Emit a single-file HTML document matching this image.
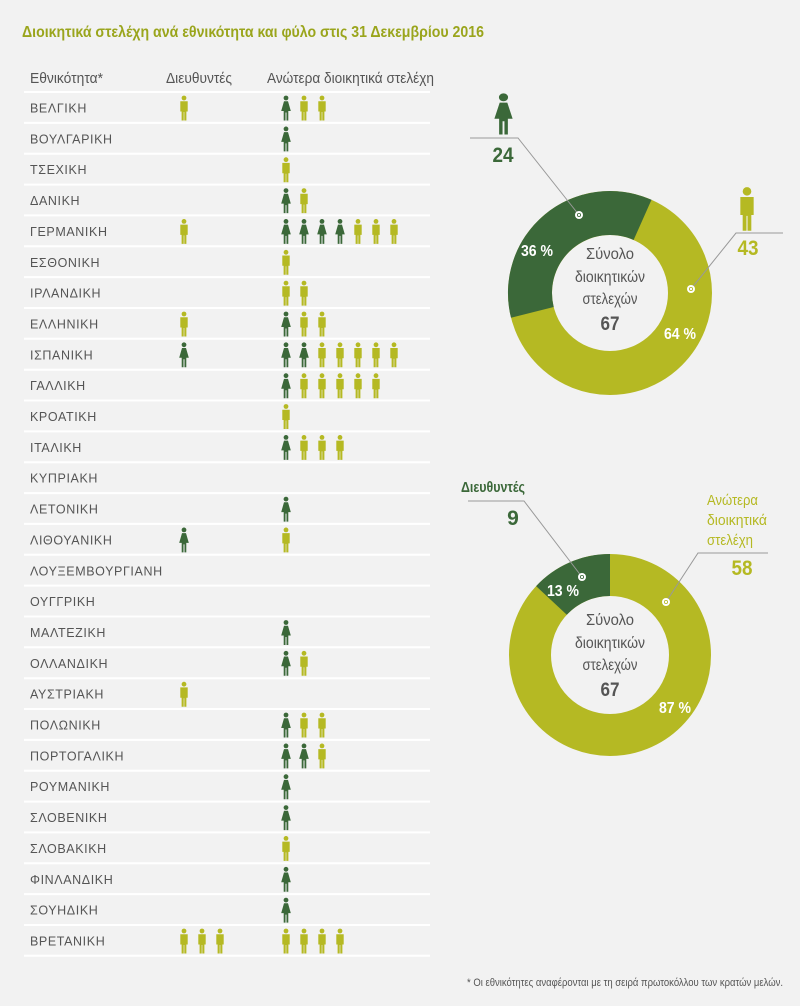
<!DOCTYPE html>
<html><head><meta charset="utf-8"><style>
html,body{margin:0;padding:0;background:#f2f2f2}
svg{display:block}
.t{font-family:"Liberation Sans Narrow","Liberation Sans",sans-serif}
.lab{font-family:"Liberation Sans",sans-serif;font-size:12.5px;fill:#555;letter-spacing:0.6px}
</style></head><body>
<svg width="800" height="1006" viewBox="0 0 800 1006" xmlns="http://www.w3.org/2000/svg">
<defs>
<g id="m"><circle cx="5" cy="-9.5" r="2.4" fill="#b5b923"/><path d="M1.3,-6.3 H8.7 V4 H7.4 V13 H5.3 V4.5 H4.7 V13 H2.6 V4 H1.3 Z" fill="#b5b923"/></g>
<g id="f"><circle cx="5" cy="-9.5" r="2.4" fill="#3b6839"/><path d="M3,-6.3 H7 L9.8,3.5 H7.3 V13 H5.5 V5 H4.5 V13 H2.7 V3.5 H0.2 Z" fill="#3b6839"/></g>
</defs>
<rect width="800" height="1006" fill="#f2f2f2"/>
<text class="t" x="22" y="37" font-size="16" font-weight="bold" fill="#9aa51c" textLength="462" lengthAdjust="spacingAndGlyphs">Διοικητικά στελέχη ανά εθνικότητα και φύλο στις 31 Δεκεμβρίου 2016</text>
<text class="t" x="30" y="83" font-size="15" fill="#555" textLength="73" lengthAdjust="spacingAndGlyphs">Εθνικότητα*</text>
<text class="t" x="166" y="83" font-size="15" fill="#555" textLength="66" lengthAdjust="spacingAndGlyphs">Διευθυντές</text>
<text class="t" x="267" y="83" font-size="15" fill="#555" textLength="167" lengthAdjust="spacingAndGlyphs">Ανώτερα διοικητικά στελέχη</text>
<g stroke="#fff" stroke-width="2">
<line x1="24" x2="430" y1="92" y2="92"/><line x1="24" x2="430" y1="122.9" y2="122.9"/><line x1="24" x2="430" y1="153.7" y2="153.7"/><line x1="24" x2="430" y1="184.6" y2="184.6"/><line x1="24" x2="430" y1="215.4" y2="215.4"/><line x1="24" x2="430" y1="246.3" y2="246.3"/><line x1="24" x2="430" y1="277.1" y2="277.1"/><line x1="24" x2="430" y1="308" y2="308"/><line x1="24" x2="430" y1="338.8" y2="338.8"/><line x1="24" x2="430" y1="369.7" y2="369.7"/><line x1="24" x2="430" y1="400.5" y2="400.5"/><line x1="24" x2="430" y1="431.4" y2="431.4"/><line x1="24" x2="430" y1="462.2" y2="462.2"/><line x1="24" x2="430" y1="493.1" y2="493.1"/><line x1="24" x2="430" y1="523.9" y2="523.9"/><line x1="24" x2="430" y1="554.8" y2="554.8"/><line x1="24" x2="430" y1="585.6" y2="585.6"/><line x1="24" x2="430" y1="616.5" y2="616.5"/><line x1="24" x2="430" y1="647.3" y2="647.3"/><line x1="24" x2="430" y1="678.2" y2="678.2"/><line x1="24" x2="430" y1="709" y2="709"/><line x1="24" x2="430" y1="739.9" y2="739.9"/><line x1="24" x2="430" y1="770.7" y2="770.7"/><line x1="24" x2="430" y1="801.6" y2="801.6"/><line x1="24" x2="430" y1="832.4" y2="832.4"/><line x1="24" x2="430" y1="863.3" y2="863.3"/><line x1="24" x2="430" y1="894.1" y2="894.1"/><line x1="24" x2="430" y1="925" y2="925"/><line x1="24" x2="430" y1="955.8" y2="955.8"/>
</g>
<g transform="translate(0,107.5)"><text class="lab" x="30" y="5">ΒΕΛΓΙΚΗ</text><use href="#m" x="179"/><use href="#f" x="281"/><use href="#m" x="299"/><use href="#m" x="317"/></g>
<g transform="translate(0,138.4)"><text class="lab" x="30" y="5">ΒΟΥΛΓΑΡΙΚΗ</text><use href="#f" x="281"/></g>
<g transform="translate(0,169.2)"><text class="lab" x="30" y="5">ΤΣΕΧΙΚΗ</text><use href="#m" x="281"/></g>
<g transform="translate(0,200.1)"><text class="lab" x="30" y="5">ΔΑΝΙΚΗ</text><use href="#f" x="281"/><use href="#m" x="299"/></g>
<g transform="translate(0,230.9)"><text class="lab" x="30" y="5">ΓΕΡΜΑΝΙΚΗ</text><use href="#m" x="179"/><use href="#f" x="281"/><use href="#f" x="299"/><use href="#f" x="317"/><use href="#f" x="335"/><use href="#m" x="353"/><use href="#m" x="371"/><use href="#m" x="389"/></g>
<g transform="translate(0,261.8)"><text class="lab" x="30" y="5">ΕΣΘΟΝΙΚΗ</text><use href="#m" x="281"/></g>
<g transform="translate(0,292.6)"><text class="lab" x="30" y="5">ΙΡΛΑΝΔΙΚΗ</text><use href="#m" x="281"/><use href="#m" x="299"/></g>
<g transform="translate(0,323.5)"><text class="lab" x="30" y="5">ΕΛΛΗΝΙΚΗ</text><use href="#m" x="179"/><use href="#f" x="281"/><use href="#m" x="299"/><use href="#m" x="317"/></g>
<g transform="translate(0,354.3)"><text class="lab" x="30" y="5">ΙΣΠΑΝΙΚΗ</text><use href="#f" x="179"/><use href="#f" x="281"/><use href="#f" x="299"/><use href="#m" x="317"/><use href="#m" x="335"/><use href="#m" x="353"/><use href="#m" x="371"/><use href="#m" x="389"/></g>
<g transform="translate(0,385.2)"><text class="lab" x="30" y="5">ΓΑΛΛΙΚΗ</text><use href="#f" x="281"/><use href="#m" x="299"/><use href="#m" x="317"/><use href="#m" x="335"/><use href="#m" x="353"/><use href="#m" x="371"/></g>
<g transform="translate(0,416)"><text class="lab" x="30" y="5">ΚΡΟΑΤΙΚΗ</text><use href="#m" x="281"/></g>
<g transform="translate(0,446.9)"><text class="lab" x="30" y="5">ΙΤΑΛΙΚΗ</text><use href="#f" x="281"/><use href="#m" x="299"/><use href="#m" x="317"/><use href="#m" x="335"/></g>
<g transform="translate(0,477.7)"><text class="lab" x="30" y="5">ΚΥΠΡΙΑΚΗ</text></g>
<g transform="translate(0,508.6)"><text class="lab" x="30" y="5">ΛΕΤΟΝΙΚΗ</text><use href="#f" x="281"/></g>
<g transform="translate(0,539.4)"><text class="lab" x="30" y="5">ΛΙΘΟΥΑΝΙΚΗ</text><use href="#f" x="179"/><use href="#m" x="281"/></g>
<g transform="translate(0,570.3)"><text class="lab" x="30" y="5">ΛΟΥΞΕΜΒΟΥΡΓΙΑΝΗ</text></g>
<g transform="translate(0,601.1)"><text class="lab" x="30" y="5">ΟΥΓΓΡΙΚΗ</text></g>
<g transform="translate(0,632)"><text class="lab" x="30" y="5">ΜΑΛΤΕΖΙΚΗ</text><use href="#f" x="281"/></g>
<g transform="translate(0,662.8)"><text class="lab" x="30" y="5">ΟΛΛΑΝΔΙΚΗ</text><use href="#f" x="281"/><use href="#m" x="299"/></g>
<g transform="translate(0,693.7)"><text class="lab" x="30" y="5">ΑΥΣΤΡΙΑΚΗ</text><use href="#m" x="179"/></g>
<g transform="translate(0,724.5)"><text class="lab" x="30" y="5">ΠΟΛΩΝΙΚΗ</text><use href="#f" x="281"/><use href="#m" x="299"/><use href="#m" x="317"/></g>
<g transform="translate(0,755.4)"><text class="lab" x="30" y="5">ΠΟΡΤΟΓΑΛΙΚΗ</text><use href="#f" x="281"/><use href="#f" x="299"/><use href="#m" x="317"/></g>
<g transform="translate(0,786.2)"><text class="lab" x="30" y="5">ΡΟΥΜΑΝΙΚΗ</text><use href="#f" x="281"/></g>
<g transform="translate(0,817.1)"><text class="lab" x="30" y="5">ΣΛΟΒΕΝΙΚΗ</text><use href="#f" x="281"/></g>
<g transform="translate(0,847.9)"><text class="lab" x="30" y="5">ΣΛΟΒΑΚΙΚΗ</text><use href="#m" x="281"/></g>
<g transform="translate(0,878.8)"><text class="lab" x="30" y="5">ΦΙΝΛΑΝΔΙΚΗ</text><use href="#f" x="281"/></g>
<g transform="translate(0,909.6)"><text class="lab" x="30" y="5">ΣΟΥΗΔΙΚΗ</text><use href="#f" x="281"/></g>
<g transform="translate(0,940.5)"><text class="lab" x="30" y="5">ΒΡΕΤΑΝΙΚΗ</text><use href="#m" x="179"/><use href="#m" x="197"/><use href="#m" x="215"/><use href="#m" x="281"/><use href="#m" x="299"/><use href="#m" x="317"/><use href="#m" x="335"/></g>

<!-- Donut 1 -->
<circle cx="610" cy="293" r="80" fill="none" stroke="#b5b923" stroke-width="44"/>
<path d="M511,317.7 A102,102 0 0 1 651.5,199.8 L633.6,240 A58,58 0 0 0 553.7,307 Z" fill="#3b6839"/>
<polyline points="470,138 518,138 579,215" fill="none" stroke="#999" stroke-width="1"/>
<polyline points="783,233 736,233 691,289" fill="none" stroke="#999" stroke-width="1"/>
<circle cx="579" cy="215" r="4" fill="#fff"/><circle cx="579" cy="215" r="2" fill="#3b6839"/><circle cx="579" cy="215" r="1.2" fill="#fff"/>
<circle cx="691" cy="289" r="4" fill="#fff"/><circle cx="691" cy="289" r="2" fill="#b5b923"/><circle cx="691" cy="289" r="1.2" fill="#fff"/>
<g transform="translate(494,113) scale(1.9,1.65)"><use href="#f"/></g>
<g transform="translate(738,208) scale(1.8,1.75)"><use href="#m"/></g>
<text class="t" x="503" y="162" font-size="21" font-weight="bold" fill="#3b6839" text-anchor="middle" textLength="21" lengthAdjust="spacingAndGlyphs">24</text>
<text class="t" x="748" y="255" font-size="21" font-weight="bold" fill="#b5b923" text-anchor="middle" textLength="21" lengthAdjust="spacingAndGlyphs">43</text>
<text class="t" x="537" y="256" font-size="16" font-weight="bold" fill="#fff" text-anchor="middle" textLength="32" lengthAdjust="spacingAndGlyphs">36 %</text>
<text class="t" x="680" y="339" font-size="16" font-weight="bold" fill="#fff" text-anchor="middle" textLength="32" lengthAdjust="spacingAndGlyphs">64 %</text>
<text class="t" x="610" y="259" font-size="16" fill="#555" text-anchor="middle" textLength="48" lengthAdjust="spacingAndGlyphs">Σύνολο</text>
<text class="t" x="610" y="282" font-size="16" fill="#555" text-anchor="middle" textLength="70" lengthAdjust="spacingAndGlyphs">διοικητικών</text>
<text class="t" x="610" y="304" font-size="16" fill="#555" text-anchor="middle" textLength="55" lengthAdjust="spacingAndGlyphs">στελεχών</text>
<text class="t" x="610" y="330" font-size="19" font-weight="bold" fill="#555" text-anchor="middle" textLength="19" lengthAdjust="spacingAndGlyphs">67</text>

<!-- Donut 2 -->
<circle cx="610" cy="655" r="80" fill="none" stroke="#b5b923" stroke-width="42"/>
<path d="M536.1,586.1 A101,101 0 0 1 610,554 L610,596 A59,59 0 0 0 566.8,614.8 Z" fill="#3b6839"/>
<polyline points="468,501 524,501 582,577" fill="none" stroke="#999" stroke-width="1"/>
<polyline points="768,553 698,553 666,602" fill="none" stroke="#999" stroke-width="1"/>
<circle cx="582" cy="577" r="4" fill="#fff"/><circle cx="582" cy="577" r="2" fill="#3b6839"/><circle cx="582" cy="577" r="1.2" fill="#fff"/>
<circle cx="666" cy="602" r="4" fill="#fff"/><circle cx="666" cy="602" r="2" fill="#b5b923"/><circle cx="666" cy="602" r="1.2" fill="#fff"/>
<text class="t" x="461" y="492" font-size="15" font-weight="bold" fill="#3b6839" textLength="64" lengthAdjust="spacingAndGlyphs">Διευθυντές</text>
<text class="t" x="513" y="525" font-size="21" font-weight="bold" fill="#3b6839" text-anchor="middle">9</text>
<text class="t" x="707" y="505" font-size="15" fill="#b5b923" textLength="51" lengthAdjust="spacingAndGlyphs">Ανώτερα</text>
<text class="t" x="707" y="525" font-size="15" fill="#b5b923" textLength="60" lengthAdjust="spacingAndGlyphs">διοικητικά</text>
<text class="t" x="707" y="545" font-size="15" fill="#b5b923" textLength="46" lengthAdjust="spacingAndGlyphs">στελέχη</text>
<text class="t" x="742" y="575" font-size="21" font-weight="bold" fill="#b5b923" text-anchor="middle" textLength="21" lengthAdjust="spacingAndGlyphs">58</text>
<text class="t" x="563" y="596" font-size="16" font-weight="bold" fill="#fff" text-anchor="middle" textLength="32" lengthAdjust="spacingAndGlyphs">13 %</text>
<text class="t" x="675" y="713" font-size="16" font-weight="bold" fill="#fff" text-anchor="middle" textLength="32" lengthAdjust="spacingAndGlyphs">87 %</text>
<text class="t" x="610" y="625" font-size="16" fill="#555" text-anchor="middle" textLength="48" lengthAdjust="spacingAndGlyphs">Σύνολο</text>
<text class="t" x="610" y="648" font-size="16" fill="#555" text-anchor="middle" textLength="70" lengthAdjust="spacingAndGlyphs">διοικητικών</text>
<text class="t" x="610" y="670" font-size="16" fill="#555" text-anchor="middle" textLength="55" lengthAdjust="spacingAndGlyphs">στελεχών</text>
<text class="t" x="610" y="696" font-size="19" font-weight="bold" fill="#555" text-anchor="middle" textLength="19" lengthAdjust="spacingAndGlyphs">67</text>

<text class="t" x="467" y="986" font-size="11" fill="#555" textLength="316" lengthAdjust="spacingAndGlyphs">* Οι εθνικότητες αναφέρονται με τη σειρά πρωτοκόλλου των κρατών μελών.</text>
</svg>
</body></html>
